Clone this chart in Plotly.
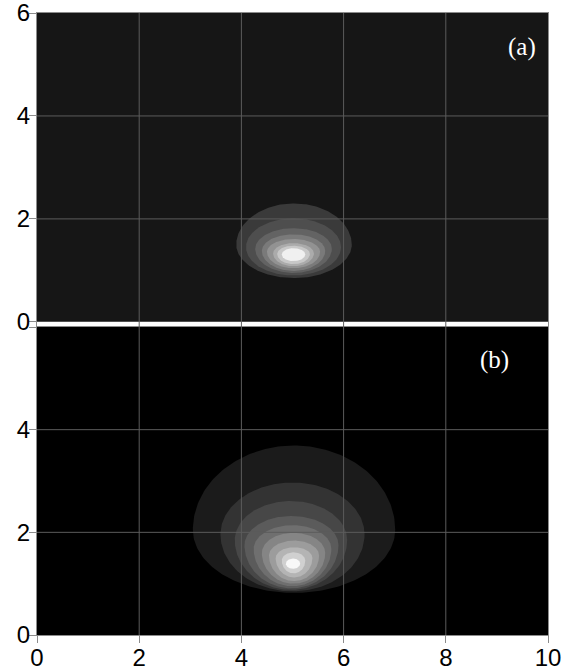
import numpy as np
import plotly.graph_objects as go

# ---- data ----
x_ticks = [0, 2, 4, 6, 8, 10]
y_ticks = [0, 2, 4, 6]
grid_x = [2, 4, 6, 8]
grid_y = [2, 4]

# panel (a): contour bands, outermost first
a_cx = [5.03, 5.02, 5.02, 5.02, 5.02, 5.02, 5.02, 5.02]
a_halfw = [1.13, 0.93, 0.75, 0.62, 0.52, 0.40, 0.32, 0.23]
a_ymid = [1.50, 1.45, 1.42, 1.38, 1.36, 1.33, 1.32, 1.31]
a_top = [2.30, 2.01, 1.82, 1.70, 1.61, 1.53, 1.48, 1.43]
a_bot = [0.85, 0.90, 0.95, 0.99, 1.04, 1.08, 1.12, 1.18]
a_gray = ["#3a3a3a", "#4e4e4e", "#636363", "#7a7a7a", "#929292", "#ababab", "#c8c8c8", "#f0f0f0"]

# panel (b): contour bands, outermost first
b_cx = [5.03, 5.00, 4.97, 4.98, 5.00, 5.02, 5.03, 5.03, 5.02, 5.01]
b_halfw = [1.98, 1.41, 1.10, 0.92, 0.76, 0.62, 0.49, 0.36, 0.23, 0.14]
b_ymid = [2.05, 1.96, 1.85, 1.75, 1.68, 1.60, 1.55, 1.50, 1.45, 1.39]
b_top = [3.69, 2.97, 2.61, 2.32, 2.14, 1.99, 1.84, 1.71, 1.61, 1.49]
b_bot = [0.82, 0.85, 0.88, 0.91, 0.95, 1.00, 1.05, 1.12, 1.20, 1.29]
b_gray = ["#1b1b1b", "#333333", "#474747", "#5b5b5b", "#6f6f6f", "#858585",
          "#9c9c9c", "#b4b4b4", "#d0d0d0", "#f8f8f8"]

panel_labels = ["(a)", "(b)"]

# ---- figure ----
W, H = 585, 671
ML, MR, MT, MB = 37, 37, 13, 36
split = 308 / 622.0

fig = go.Figure()

t = np.linspace(0, 2 * np.pi, 241)


def band_path(cx, hw, ym, top, bot):
    s = np.sin(t)
    ry = np.where(s >= 0, top - ym, ym - bot)
    return cx + hw * np.cos(t), ym + ry * s


def add_bands(cxs, hws, yms, tops, bots, grays, xa, ya):
    for cx, hw, ym, tp, bt, g in zip(cxs, hws, yms, tops, bots, grays):
        xs, ys = band_path(cx, hw, ym, tp, bt)
        fig.add_trace(go.Scatter(x=xs, y=ys, mode="lines", fill="toself",
                                 fillcolor=g, line=dict(width=0, color=g),
                                 hoverinfo="skip", showlegend=False,
                                 xaxis=xa, yaxis=ya))


add_bands(a_cx, a_halfw, a_ymid, a_top, a_bot, a_gray, "x", "y")
add_bands(b_cx, b_halfw, b_ymid, b_top, b_bot, b_gray, "x2", "y2")

shapes = []
# panel backgrounds
shapes.append(dict(type="rect", xref="x", yref="y", x0=0, x1=10, y0=0, y1=6,
                   fillcolor="#161616", line=dict(width=0), layer="below"))
shapes.append(dict(type="rect", xref="x2", yref="y2", x0=0, x1=10, y0=0, y1=6,
                   fillcolor="#000000", line=dict(width=0), layer="below"))
gcol = "#5c5c5c"
for gx in grid_x:
    shapes.append(dict(type="line", xref="x", yref="y", x0=gx, x1=gx, y0=-0.1, y1=6,
                       line=dict(color=gcol, width=1), layer="above"))
    shapes.append(dict(type="line", xref="x2", yref="y2", x0=gx, x1=gx, y0=0, y1=6,
                       line=dict(color=gcol, width=1), layer="above"))
for gy in grid_y:
    shapes.append(dict(type="line", xref="x", yref="y", x0=0, x1=10, y0=gy, y1=gy,
                       line=dict(color=gcol, width=1), layer="above"))
    shapes.append(dict(type="line", xref="x2", yref="y2", x0=0, x1=10, y0=gy, y1=gy,
                       line=dict(color=gcol, width=1), layer="above"))

tickfont = dict(family="Liberation Sans, Arial, sans-serif", size=24, color="black")
axcol = "#8c8c8c"

common = dict(showgrid=False, zeroline=False, automargin=False, ticklabeloverflow="allow",
              showline=True, linecolor=axcol, mirror=True, tickcolor=axcol, tickfont=tickfont)

fig.update_layout(
    width=W, height=H,
    margin=dict(l=ML, r=MR, t=MT, b=MB, pad=0, autoexpand=False),
    paper_bgcolor="white", plot_bgcolor="white",
    shapes=shapes,
    showlegend=False,
    xaxis=dict(domain=[0, 1], range=[0, 10], anchor="y",
               showticklabels=False, ticks="", **common),
    yaxis=dict(domain=[split, 1], range=[-0.1, 6], anchor="x",
               tickvals=y_ticks, ticktext=["0", "2", "4", "6"], ticks="outside",
               ticklen=7, ticklabelstandoff=-6, **common),
    xaxis2=dict(domain=[0, 1], range=[0, 10], anchor="y2",
                tickvals=x_ticks, ticks="outside", ticklen=7, ticklabelstandoff=-6, **common),
    yaxis2=dict(domain=[0, split], range=[0, 6], anchor="x2",
                tickvals=y_ticks, ticktext=["0", "2", "4", ""], ticks="outside", ticklen=7,
                ticklabelstandoff=-6, **common),
    annotations=[
        dict(text=panel_labels[0], xref="x", yref="y", x=9.50, y=5.34, showarrow=False,
             font=dict(family="Liberation Serif, Times New Roman, serif", size=25, color="white")),
        dict(text=panel_labels[1], xref="x2", yref="y2", x=8.95, y=5.35, showarrow=False,
             font=dict(family="Liberation Serif, Times New Roman, serif", size=25, color="white")),
    ],
)

fig.write_html("out.html", config={"displayModeBar": False},
               post_script="document.body.style.margin='0';")
